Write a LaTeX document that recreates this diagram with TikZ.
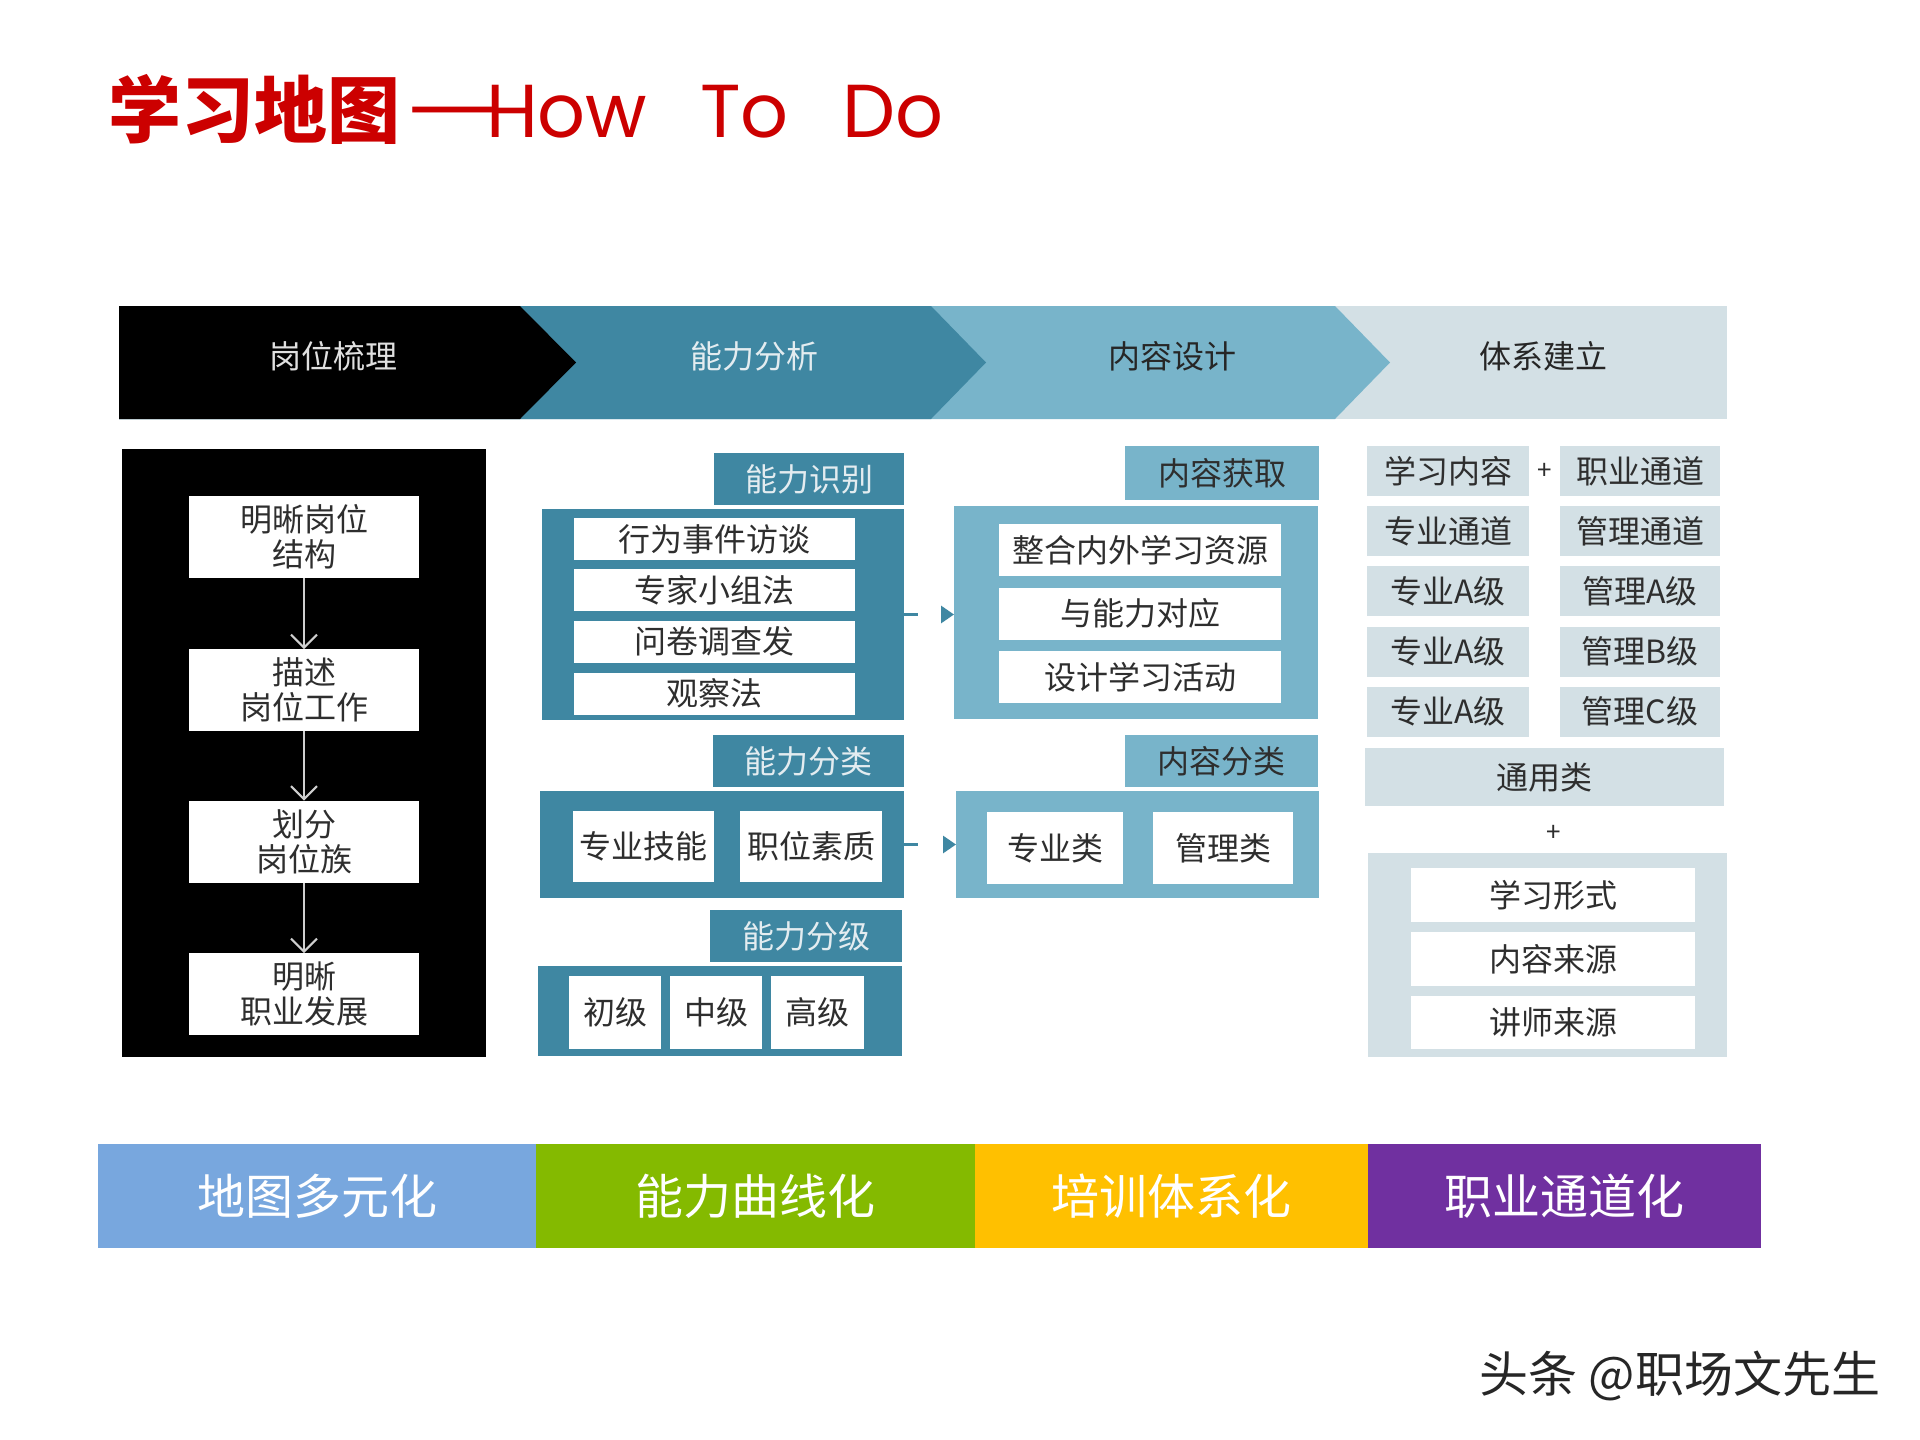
\documentclass[tikz,border=0pt]{standalone}
\usepackage{fontspec}
\setmainfont{Noto Sans CJK SC}
\newfontfamily\poppins{Poppins}
\usetikzlibrary{arrows.meta}
\newcommand\myfs[2]{\fontsize{#1}{#2}\selectfont}
\definecolor{tealD}{HTML}{3F87A2}
\definecolor{tealM}{HTML}{78B4CA}
\definecolor{greyL}{HTML}{D3E0E5}
\definecolor{titlered}{HTML}{CC0000}
\definecolor{txt}{HTML}{2E2E2E}
\definecolor{tabtxt}{HTML}{E3ECF0}
\definecolor{arrowgrey}{HTML}{CFCFCF}
\definecolor{barblue}{HTML}{78A7DE}
\definecolor{bargreen}{HTML}{84BA00}
\definecolor{baryellow}{HTML}{FFC000}
\definecolor{barpurple}{HTML}{7030A0}
\begin{document}
\begin{tikzpicture}[x=1pt,y=-1pt,
  every node/.style={inner sep=0pt, outer sep=0pt},
  wbox/.style={fill=white, text=txt, font=\myfs{32}{35}, align=center},
  tabD/.style={fill=tealD, text=tabtxt, font=\myfs{32}{35}},
  tabM/.style={fill=tealM, text=txt, font=\myfs{32}{35}},
  gbox/.style={fill=greyL, text=txt, font=\myfs{32}{35}},
  bandlbl/.style={font=\myfs{32}{35}},
  barlbl/.style={text=white, font=\myfs{48}{50}},
  flowarrow/.style={draw=arrowgrey, line width=2pt, -{Straight Barb[length=13pt,width=26pt,line width=2pt]}},
  linkarrow/.style={draw=tealD, line width=3pt, dash pattern=on 14pt off 40pt, -{Triangle[length=13pt,width=17pt]}},
]
\fill[white] (0,0) rectangle (1920,1440);
\useasboundingbox (0,0) rectangle (1920,1440);

% title
\node[anchor=base west, text=titlered, font=\bfseries\myfs{73}{80}] (tcn) at (108,137) {学习地图};
\node[anchor=base west, text=titlered, font=\poppins\myfs{75}{80}] (tdash) at (404,137) {\scalebox{1.45}[1]{—}};
\node[anchor=base west, text=titlered, font=\poppins\myfs{75}{80}] (thow) at (486,137) {How};
\node[anchor=base west, text=titlered, font=\poppins\myfs{75}{80}] (tto) at (700,137) {To};
\node[anchor=base west, text=titlered, font=\poppins\myfs{75}{80}] (tdo) at (842,137) {Do};

% chevron band
\fill[greyL] (119,306) rectangle (1727,419);
\fill[tealM] (119,306) -- (1335,306) -- (1390,362.5) -- (1335,419) -- (119,419) -- cycle;
\fill[tealD] (119,306) -- (931,306) -- (986,362.5) -- (931,419) -- (119,419) -- cycle;
\fill[black] (119,306) -- (520,306) -- (576,362.5) -- (520,419) -- (119,419) -- cycle;
\node[bandlbl, text=black!12] (b1) at (333,356) {岗位梳理};
\node[bandlbl, text=tabtxt] (b2) at (754,356) {能力分析};
\node[bandlbl, text=black!85] (b3) at (1172,356) {内容设计};
\node[bandlbl, text=black!85] (b4) at (1543,356) {体系建立};

% left panel
\node[fill=black, minimum width=364pt, minimum height=608pt] (lp) at (304,753) {};
\node[wbox, minimum width=230pt, minimum height=82pt] (l1) at (304,537) {明晰岗位\\结构};
\node[wbox, minimum width=230pt, minimum height=82pt] (l2) at (304,690) {描述\\岗位工作};
\node[wbox, minimum width=230pt, minimum height=82pt] (l3) at (304,841.5) {划分\\岗位族};
\node[wbox, minimum width=230pt, minimum height=82pt] (l4) at (304,994) {明晰\\职业发展};
\draw[flowarrow] (l1.south) -- (l2.north);
\draw[flowarrow] (l2.south) -- (l3.north);
\draw[flowarrow] (l3.south) -- (l4.north);

% ability identification
\node[tabD, minimum width=190pt, minimum height=52pt] (idtab) at (809,479) {能力识别};
\node[fill=tealD, minimum width=362pt, minimum height=211pt] (idbody) at (723,614.5) {};
\node[wbox, minimum width=281pt, minimum height=42pt] (id1) at (714.5,539) {行为事件访谈};
\node[wbox, minimum width=281pt, minimum height=42pt] (id2) at (714.5,590) {专家小组法};
\node[wbox, minimum width=281pt, minimum height=42pt] (id3) at (714.5,641.5) {问卷调查发};
\node[wbox, minimum width=281pt, minimum height=42pt] (id4) at (714.5,693.5) {观察法};

% ability classification
\node[tabD, minimum width=191pt, minimum height=52pt] (cltab) at (808.5,761) {能力分类};
\node[fill=tealD, minimum width=364pt, minimum height=107pt] (clbody) at (722,844.5) {};
\node[wbox, minimum width=141pt, minimum height=71pt] (cl1) at (643.5,846.5) {专业技能};
\node[wbox, minimum width=142pt, minimum height=71pt] (cl2) at (811,846.5) {职位素质};

% ability grading
\node[tabD, minimum width=192pt, minimum height=52pt] (lvtab) at (806,936) {能力分级};
\node[fill=tealD, minimum width=364pt, minimum height=90pt] (lvbody) at (720,1011) {};
\node[wbox, minimum width=92pt, minimum height=73pt] (lv1) at (615,1012.5) {初级};
\node[wbox, minimum width=92pt, minimum height=73pt] (lv2) at (716,1012.5) {中级};
\node[wbox, minimum width=93pt, minimum height=73pt] (lv3) at (817.5,1012.5) {高级};

% content acquisition
\node[tabM, minimum width=194pt, minimum height=54pt] (cgtab) at (1222,473) {内容获取};
\node[fill=tealM, minimum width=364pt, minimum height=213pt] (cgbody) at (1136,612.5) {};
\node[wbox, minimum width=282pt, minimum height=52pt] (cg1) at (1140,550) {整合内外学习资源};
\node[wbox, minimum width=282pt, minimum height=52pt] (cg2) at (1140,613.5) {与能力对应};
\node[wbox, minimum width=282pt, minimum height=52pt] (cg3) at (1140,677) {设计学习活动};

% content classification
\node[tabM, minimum width=193pt, minimum height=52pt] (cctab) at (1221.5,761) {内容分类};
\node[fill=tealM, minimum width=363pt, minimum height=107pt] (ccbody) at (1137.5,844.5) {};
\node[wbox, minimum width=136pt, minimum height=72pt] (cc1) at (1055,848) {专业类};
\node[wbox, minimum width=140pt, minimum height=72pt] (cc2) at (1223,848) {管理类};

% links
\draw[linkarrow] (idbody.east) -- (idbody.east -| cgbody.west);
\draw[linkarrow] (clbody.east) -- (clbody.east -| ccbody.west);

% system column
\node[gbox, minimum width=162pt, minimum height=50pt] (r1a) at (1448,471) {学习内容};
\node[text=txt, font=\myfs{26}{30}] (plus1) at (1545,471) {+};
\node[gbox, minimum width=160pt, minimum height=50pt] (r1b) at (1640,471) {职业通道};
\node[gbox, minimum width=162pt, minimum height=50pt] (r2a) at (1448,531) {专业通道};
\node[gbox, minimum width=160pt, minimum height=50pt] (r2b) at (1640,531) {管理通道};
\node[gbox, minimum width=162pt, minimum height=50pt] (r3a) at (1448,591) {专业A级};
\node[gbox, minimum width=160pt, minimum height=50pt] (r3b) at (1640,591) {管理A级};
\node[gbox, minimum width=162pt, minimum height=50pt] (r4a) at (1448,651.5) {专业A级};
\node[gbox, minimum width=160pt, minimum height=50pt] (r4b) at (1640,651.5) {管理B级};
\node[gbox, minimum width=162pt, minimum height=50pt] (r5a) at (1448,711.5) {专业A级};
\node[gbox, minimum width=160pt, minimum height=50pt] (r5b) at (1640,711.5) {管理C级};
\node[gbox, minimum width=359pt, minimum height=58pt] (gen) at (1544.5,777) {通用类};
\node[text=txt, font=\myfs{26}{30}] (plus2) at (1554,833) {+};
\node[fill=greyL, minimum width=359pt, minimum height=204pt] (rp) at (1547.5,955) {};
\node[wbox, minimum width=284pt, minimum height=54pt] (rp1) at (1553,895) {学习形式};
\node[wbox, minimum width=284pt, minimum height=54pt] (rp2) at (1553,959) {内容来源};
\node[wbox, minimum width=284pt, minimum height=53pt] (rp3) at (1553,1022.5) {讲师来源};

% bottom bar
\node[barlbl, fill=barblue, minimum width=438pt, minimum height=104pt] (bar1) at (317,1196) {地图多元化};
\node[barlbl, fill=bargreen, minimum width=439pt, minimum height=104pt] (bar2) at (755.5,1196) {能力曲线化};
\node[barlbl, fill=baryellow, minimum width=393pt, minimum height=104pt] (bar3) at (1171.5,1196) {培训体系化};
\node[barlbl, fill=barpurple, minimum width=393pt, minimum height=104pt] (bar4) at (1564.5,1196) {职业通道化};

% watermark
\node[text=black!85, font=\myfs{49}{52}] (wm) at (1680,1376) {头条 @职场文先生};
\end{tikzpicture}
\end{document}
